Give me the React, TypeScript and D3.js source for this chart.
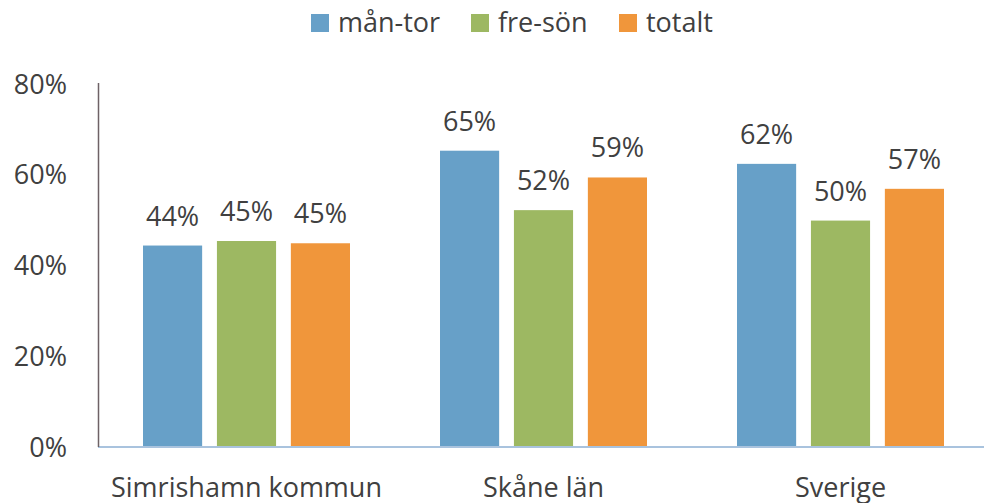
import {useRef, useEffect} from "react";
import * as d3 from "d3";

const categories = ["Simrishamn kommun", "Skåne län", "Sverige"];
const seriesNames = ["mån-tor", "fre-sön", "totalt"];
const manTor = [44.4, 65.3, 62.4];
const freSon = [45.4, 52.2, 49.9];
const totalt = [44.9, 59.4, 56.9];
const yTicks = [0, 20, 40, 60, 80];
const colors = ["#67A0C8", "#9DB862", "#F0963B"];

const W = 984;
const H = 503;
const FONT = "'Open Sans', sans-serif";

export default function App() {
  const root = useRef<SVGSVGElement>(null);

  useEffect(() => {
    const svg = d3.select(root.current);
    svg.selectAll("*").remove();

    const x = d3.scaleBand<string>().domain(categories).range([98, 989]).padding(0);
    const x1 = d3.scaleBand<string>().domain(seriesNames).range([0, 207]).paddingInner(0.2).paddingOuter(0);
    const y = d3.scaleLinear().domain([0, 80]).range([447, 84]);
    const series = [manTor, freSon, totalt];

    // y axis labels
    svg.append("g")
      .selectAll("text")
      .data(yTicks)
      .enter()
      .append("text")
      .attr("x", 67)
      .attr("y", d => y(d) + 9.5)
      .attr("text-anchor", "end")
      .attr("font-family", FONT)
      .attr("font-size", "27px")
      .attr("fill", "#404040")
      .text(d => d + "%");

    // bars + value labels
    const groups = svg.append("g")
      .selectAll("g")
      .data(categories)
      .enter()
      .append("g")
      .attr("transform", d => "translate(" + (x(d)! + (x.bandwidth() - 207) / 2) + ",0)");

    groups.each(function(cat, ci) {
      const g = d3.select(this);
      seriesNames.forEach((s, si) => {
        const v = series[si][ci];
        g.append("rect")
          .attr("x", x1(s)!)
          .attr("y", y(v))
          .attr("width", x1.bandwidth())
          .attr("height", y(0) - y(v))
          .attr("fill", colors[si]);
        g.append("text")
          .attr("x", x1(s)! + x1.bandwidth() / 2)
          .attr("y", y(v) - 20)
          .attr("text-anchor", "middle")
          .attr("font-family", FONT)
          .attr("font-size", "27px")
          .attr("fill", "#404040")
          .text(Math.round(v) + "%");
      });
    });

    // axis lines
    svg.append("line")
      .attr("x1", 98).attr("x2", W)
      .attr("y1", y(0)).attr("y2", y(0))
      .attr("stroke", "#A9C3DE").attr("stroke-width", 2);
    svg.append("line")
      .attr("x1", 98.5).attr("x2", 98.5)
      .attr("y1", 83).attr("y2", y(0))
      .attr("stroke", "#6E6266").attr("stroke-width", 1.5);

    // category labels
    svg.append("g")
      .selectAll("text")
      .data(categories)
      .enter()
      .append("text")
      .attr("x", d => x(d)! + x.bandwidth() / 2)
      .attr("y", 497)
      .attr("text-anchor", "middle")
      .attr("font-family", FONT)
      .attr("font-size", "27px")
      .attr("fill", "#404040")
      .text(d => d);

    // legend
    const legX = [311, 471, 619];
    const leg = svg.append("g")
      .selectAll("g")
      .data(seriesNames)
      .enter()
      .append("g")
      .attr("transform", (d, i) => "translate(" + legX[i] + ",14)");
    leg.append("rect")
      .attr("width", 18).attr("height", 18)
      .attr("fill", (d, i) => colors[i]);
    leg.append("text")
      .attr("x", 27)
      .attr("y", 18)
      .attr("font-family", FONT)
      .attr("font-size", "27px")
      .attr("fill", "#404040")
      .text(d => d);
  }, []);

  return (
    <svg ref={root} width={W} height={H} style={{position: "absolute", left: 0, top: 0, background: "#fff"}}></svg>
  );
}
